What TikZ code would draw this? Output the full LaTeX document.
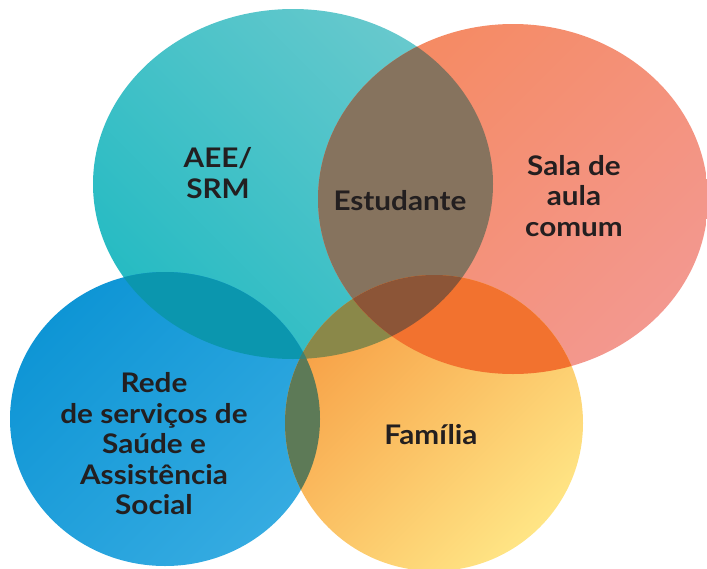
\documentclass[tikz,border=0pt]{standalone}
\usepackage{fontspec}
\setmainfont{Lato}[FakeStretch=1.1]

\definecolor{tealA}{HTML}{26BBC3}
\definecolor{tealB}{HTML}{68C9CD}
\definecolor{salmA}{HTML}{F58A62}
\definecolor{salmM}{HTML}{F2836F}
\definecolor{salmB}{HTML}{F3988F}
\definecolor{blueA}{HTML}{0E95D5}
\definecolor{blueB}{HTML}{35ABE1}
\definecolor{famA}{HTML}{F7A046}
\definecolor{famM}{HTML}{FBB650}
\definecolor{famB}{HTML}{FFE585}
\definecolor{tsOver}{HTML}{86735E}
\definecolor{tbOver}{HTML}{0B96AE}
\definecolor{tfOver}{HTML}{8A8849}
\definecolor{sfOver}{HTML}{F2722F}
\definecolor{tsfOver}{HTML}{8C5537}
\definecolor{bfOver}{HTML}{5D7A57}
\definecolor{tbfOver}{HTML}{3E8273}
\definecolor{ink}{HTML}{231F20}

\begin{document}
\begin{tikzpicture}[x=1pt, y=-1pt,
                    lbl/.style={font=\bfseries\fontsize{27}{30.5}\selectfont,
                                text=ink, align=center, inner sep=0pt}
                    ]
    \useasboundingbox (0,0) rectangle (707,568);

    \coordinate (T) at (293,184);
    \coordinate (S) at (513,199);
    \coordinate (B) at (165,419);
    \coordinate (F) at (434,423);

    \def\tealpath{(T) ellipse [x radius=200pt, y radius=175pt]}
    \def\salmpath{(S) ellipse [x radius=195pt, y radius=175pt]}
    \def\bluepath{(B) ellipse [x radius=155pt, y radius=147pt]}
    \def\fampath{(F) ellipse [x radius=149pt, y radius=148pt]}

    % the four sets
    \shade[top color=tealB, bottom color=tealA, shading angle=-45] \tealpath;
    \shade[top color=salmA, middle color=salmM, bottom color=salmB, shading angle=45] \salmpath;
    \shade[top color=blueA, bottom color=blueB, shading angle=45] \bluepath;
    \shade[top color=famA, middle color=famM, bottom color=famB, shading angle=45] \fampath;

    % overlaps
    \begin{scope}
        \clip \tealpath;
        \fill[tsOver] \salmpath;
        \fill[tbOver] \bluepath;
        \fill[tfOver] \fampath;
    \end{scope}
    \begin{scope}
        \clip \salmpath;
        \fill[sfOver] \fampath;
    \end{scope}
    \begin{scope}
        \clip \bluepath;
        \fill[bfOver] \fampath;
    \end{scope}
    \begin{scope}
        \clip \tealpath;
        \clip \salmpath;
        \fill[tsfOver] \fampath;
    \end{scope}
    \begin{scope}
        \clip \tealpath;
        \clip \bluepath;
        \fill[tbfOver] \fampath;
    \end{scope}

    \node[lbl] (aee) at (218,173) {AEE/\\SRM};
    \node[lbl] (estudante) at (400,201) {Estudante};
    \node[lbl] (sala) at (574,196) {Sala de\\aula\\comum};
    \node[lbl] (rede) at (154,444) {Rede\\de serviços de\\Saúde e\\Assistência\\Social};
    \node[lbl] (familia) at (431,435) {Família};
\end{tikzpicture}
\end{document}
